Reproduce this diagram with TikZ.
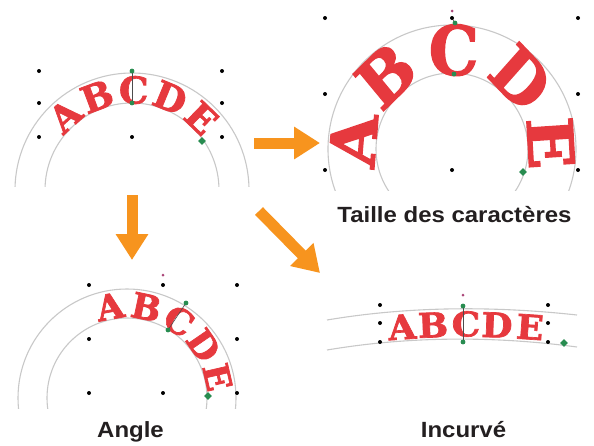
\documentclass[tikz,border=0pt]{standalone}
\usepackage{fontspec}
\setmainfont{Liberation Sans}
\newfontfamily\lettrefont{DejaVu Serif}[BoldFeatures={FakeBold=2}]
\usetikzlibrary{arrows.meta,shapes.geometric}

\definecolor{fleche}{RGB}{247,148,30}
\definecolor{rouge}{RGB}{230,57,62}
\definecolor{guide}{RGB}{200,200,200}
\definecolor{poignee}{RGB}{40,140,80}
\definecolor{pivot}{RGB}{170,70,120}
\definecolor{legende}{RGB}{35,31,32}

\tikzset{
  lettre/.style={text=rouge,font=\lettrefont\bfseries\fontsize{#1}{#1}\selectfont},
  guide/.style={draw=guide,line width=1.1pt},
  grosse fleche/.style={draw=fleche,line width=11pt,-{Triangle[length=26pt,width=31pt]}},
  legende/.style={text=legende,anchor=base,xscale=1.09,font=\bfseries\fontsize{22}{26}\selectfont},
  losange/.style={diamond,fill=poignee,minimum size=8pt},
  axe/.style={draw=black!70,line width=0.6pt}
}

\begin{document}
\begin{tikzpicture}[x=1pt,y=1pt]
\tikzstyle{every node}+=[inner sep=0pt]
\useasboundingbox (0,0) rectangle (594,-445);

% haut gauche
\coordinate (cHG) at (132,-190);
\begin{scope}
\clip (10,-55) rectangle (250,-186);
\draw [guide] (cHG) circle (117);
\draw [guide] (cHG) circle (87);
\end{scope}
\node [lettre=37,rotate=42] (hgA) at ([shift={(132:100)}]cHG) {A};
\node [lettre=37,rotate=20.5] (hgB) at ([shift={(110.5:100)}]cHG) {B};
\node [lettre=37,rotate=-1] (hgC) at ([shift={(89:100)}]cHG) {C};
\node [lettre=37,rotate=-22.5] (hgD) at ([shift={(67.5:100)}]cHG) {D};
\node [lettre=37,rotate=-44] (hgE) at ([shift={(46:100)}]cHG) {E};
\draw [axe] (132,-71) -- (132,-103);
\fill (39,-71) circle (2); \fill (222,-71) circle (2);
\fill (39,-103) circle (2); \fill (222,-103) circle (2);
\fill (39,-137) circle (2); \fill (132,-137) circle (2); \fill (222,-137) circle (2);
\fill [poignee] (132,-71) circle (2.4); \fill [poignee] (132,-103) circle (2.4);
\node [losange] (hgL) at (202,-141) {};

% haut droite
\coordinate (cHD) at (452,-149);
\begin{scope}
\clip (305,0) rectangle (592,-190);
\draw [guide] (cHD) circle (124);
\draw [guide] (cHD) circle (76);
\end{scope}
\node [lettre=68,xscale=0.92,rotate=85] (hdA) at ([shift={(175:99)}]cHD) {A};
\node [lettre=68,xscale=0.92,rotate=42] (hdB) at ([shift={(132:99)}]cHD) {B};
\node [lettre=68,xscale=0.92,rotate=-1] (hdC) at ([shift={(89:99)}]cHD) {C};
\node [lettre=68,xscale=0.92,rotate=-44] (hdD) at ([shift={(46:99)}]cHD) {D};
\node [lettre=68,xscale=0.92,rotate=-86.5] (hdE) at ([shift={(3.5:99)}]cHD) {E};
\draw [axe] (452,-18) -- (455,-23);
\fill (325,-18) circle (2); \fill (452,-18) circle (2); \fill (578,-18) circle (2);
\fill (325,-94) circle (2); \fill (578,-94) circle (2);
\fill (325,-170) circle (2); \fill (452,-170) circle (2); \fill (578,-170) circle (2);
\fill [pivot] (452,-11) circle (1.5);
\fill [poignee] (455,-23) circle (2.4); \fill [poignee] (454,-74) circle (2.4);
\node [losange] (hdL) at (523,-172) {};

% bas gauche
\coordinate (cBG) at (127,-398);
\begin{scope}
\clip (8,-265) rectangle (252,-408);
\draw [guide] (cBG) circle (109);
\draw [guide] (cBG) circle (80);
\end{scope}
\node [lettre=35,rotate=10.5] (bgA) at ([shift={(100.5:93)}]cBG) {A};
\node [lettre=35,rotate=-12] (bgB) at ([shift={(78:93)}]cBG) {B};
\node [lettre=35,rotate=-34] (bgC) at ([shift={(56:93)}]cBG) {C};
\node [lettre=35,rotate=-55.5] (bgD) at ([shift={(34.5:93)}]cBG) {D};
\node [lettre=35,rotate=-77] (bgE) at ([shift={(13:93)}]cBG) {E};
\draw [axe] (186,-303) -- (168,-330);
\fill (89,-285) circle (2); \fill (163,-285) circle (2); \fill (237,-285) circle (2);
\fill (89,-339) circle (2); \fill (237,-339) circle (2);
\fill (89,-393) circle (2); \fill (163,-393) circle (2); \fill (237,-393) circle (2);
\fill [pivot] (163,-275) circle (1.5);
\fill [poignee] (186,-303) circle (2.4); \fill [poignee] (168,-330) circle (2.4);
\node [losange] (bgL) at (208,-396) {};

% bas droite
\draw [guide] (327,-320) .. controls (410,-306) and (495,-306) .. (577,-315);
\draw [guide] (327,-350) .. controls (410,-336) and (495,-336) .. (577,-347);
\node [lettre=34,xscale=1.05,rotate=4] (bdA) at (402,-327) {A};
\node [lettre=34,xscale=1.05,rotate=2] (bdB) at (433,-325) {B};
\node [lettre=34,xscale=1.05] (bdC) at (466,-324) {C};
\node [lettre=34,xscale=1.05,rotate=-2] (bdD) at (497,-325) {D};
\node [lettre=34,xscale=1.05,rotate=-4] (bdE) at (530,-327) {E};
\draw [axe] (463,-306) -- (463,-342);
\fill (380,-305) circle (2); \fill (380,-323) circle (2); \fill (380,-342) circle (2);
\fill (548,-305) circle (2); \fill (548,-323) circle (2); \fill (548,-342) circle (2);
\fill (463,-342) circle (2);
\fill [pivot] (463,-295) circle (1.5);
\fill [poignee] (463,-306) circle (2.4); \fill [poignee] (463,-342) circle (2.4);
\node [losange] (bdL) at (564,-343) {};

% fleches
\coordinate (f1a) at (254,-143);
\coordinate (f1b) at (320,-143);
\coordinate (f2a) at (132,-195);
\coordinate (f2b) at (132,-260);
\coordinate (f3a) at (259,-211);
\coordinate (f3b) at (320,-273);
\draw [grosse fleche] (f1a) -- (f1b);
\draw [grosse fleche] (f2a) -- (f2b);
\draw [grosse fleche] (f3a) -- (f3b);

% legendes
\node [legende] (tTaille) at (454.5,-222) {Taille des caractères};
\node [legende] (tAngle) at (130.5,-437) {Angle};
\node [legende] (tIncurve) at (463.5,-437) {Incurvé};
\end{tikzpicture}
\end{document}
